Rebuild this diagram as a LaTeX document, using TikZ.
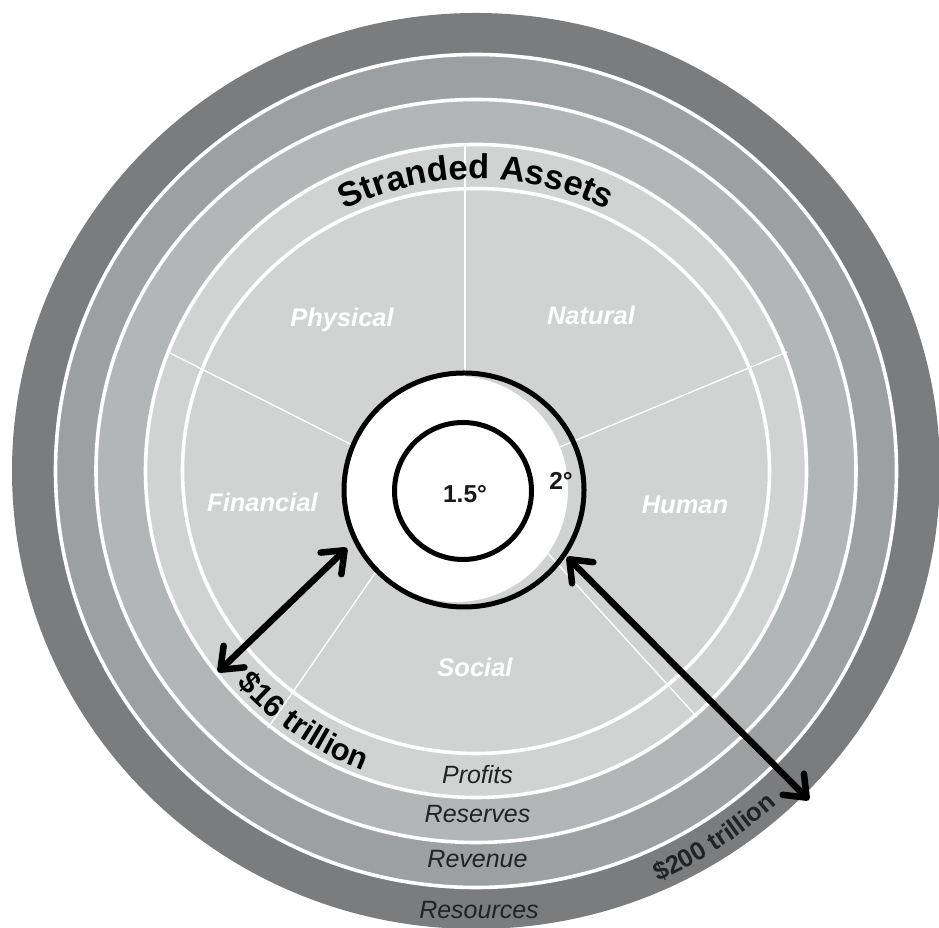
\documentclass[tikz,border=0pt]{standalone}
\usepackage{fontspec}
\setmainfont{Liberation Sans}
\usetikzlibrary{arrows.meta,decorations.text}
\definecolor{ringD}{HTML}{7B7C7E}
\definecolor{ringC}{HTML}{9DA0A1}
\definecolor{ringB}{HTML}{B3B6B7}
\definecolor{ringA}{HTML}{D1D3D3}
\definecolor{txt}{HTML}{222222}
\begin{document}
\begin{tikzpicture}[x=1pt,y=1pt,
  sep/.style={white,line width=3.6pt},
  divider/.style={white,line width=1.3pt},
  sector/.style={text=white,font=\fontsize{25.5}{30}\selectfont\bfseries\itshape,anchor=base,inner sep=0pt},
  band/.style={text=txt,font=\fontsize{25}{30}\selectfont\itshape,anchor=base,inner sep=0pt},
  deg/.style={font=\fontsize{24.5}{28}\selectfont\bfseries,text=black!90,inner sep=0pt},
  dbl/.style={line width=6.5pt,black,{Straight Barb[length=19pt,width=30pt,round]}-{Straight Barb[length=19pt,width=30pt,round]}},
  tempring/.style={black,line width=5pt}
]
\useasboundingbox (0,0) rectangle (939,928);
\clip (0,0) rectangle (939,928);
\coordinate (O) at (476,457);
% rings
\fill[ringD] (O) ellipse [x radius=464, y radius=458];
\fill[ringC] (O) ellipse [x radius=420.5, y radius=416.5];
\fill[ringB] (O) ellipse [x radius=380, y radius=371.5];
\fill[ringA] (O) ellipse [x radius=330.5, y radius=326.5];
\draw[sep] (O) ellipse [x radius=420.5, y radius=416.5];
\draw[sep] (O) ellipse [x radius=380, y radius=371.5];
\draw[sep] (O) ellipse [x radius=330.5, y radius=326.5];
\draw[sep] (O) ellipse [x radius=293.5, y radius=282.5];
% dividers
\coordinate (d1o) at (465,783); \coordinate (d1i) at (465,540);
\coordinate (d2o) at (787,576); \coordinate (d2i) at (550,477);
\coordinate (d3o) at (697,211); \coordinate (d3i) at (543,380);
\coordinate (d4o) at (268,200); \coordinate (d4i) at (380,362);
\coordinate (d5o) at (168,576); \coordinate (d5i) at (356,481);
\draw[divider] (d1o) -- (d1i);
\draw[divider] (d2o) -- (d2i);
\draw[divider] (d3o) -- (d3i);
\draw[divider] (d4o) -- (d4i);
\draw[divider] (d5o) -- (d5i);
% temperature circles
\coordinate (C2) at (464,438);
\fill[white] (456,439) ellipse [x radius=112, y radius=113];
\draw[tempring] (C2) ellipse [x radius=120, y radius=117];
\draw[tempring] (463,437) circle [radius=68.5];
\node[deg] (t15) at (465,434) {1.5°};
\node[deg] (t2) at (561,447) {2°};
% sector labels
\node[sector] (phys) at (342,601) {Physical};
\node[sector] (nat) at (591,603) {Natural};
\node[sector] (hum) at (685,414) {Human};
\node[sector] (soc) at (475,251) {Social};
\node[sector] (fin) at (262.5,416) {Financial};
% band labels
\node[band] (prof) at (477.5,144) {Profits};
\node[band] (resv) at (477.5,105) {Reserves};
\node[band] (rev) at (477.5,60) {Revenue};
\node[band] (res) at (479,9) {Resources};
% curved labels
\path[decorate,decoration={text along path,text align=center,
  text format delimiters={|}{|},
  text={|\fontsize{34.5}{40}\selectfont\bfseries|Stranded Assets}}]
  (O) ++(150:292) arc[start angle=150,end angle=30,radius=292];
\path[decorate,decoration={text along path,text align=center,
  text format delimiters={|}{|},
  text={|\fontsize{31}{36}\selectfont\bfseries|{\$}16 trillion}}]
  (O) ++(200:320) arc[start angle=200,end angle=271,radius=320];
\path[decorate,decoration={text along path,text align=center,
  text format delimiters={|}{|},
  text={|\fontsize{25.5}{30}\selectfont\bfseries\color{txt}|{\$}200 trillion}}]
  (O) ++(273:449) arc[start angle=273,end angle=333,radius=449];
% arrows
\coordinate (a1s) at (218,256); \coordinate (a1e) at (347,380);
\coordinate (a2s) at (567,371); \coordinate (a2e) at (809,128);
\draw[dbl] (a1s) -- (a1e);
\draw[dbl] (a2s) -- (a2e);
\end{tikzpicture}
\end{document}
